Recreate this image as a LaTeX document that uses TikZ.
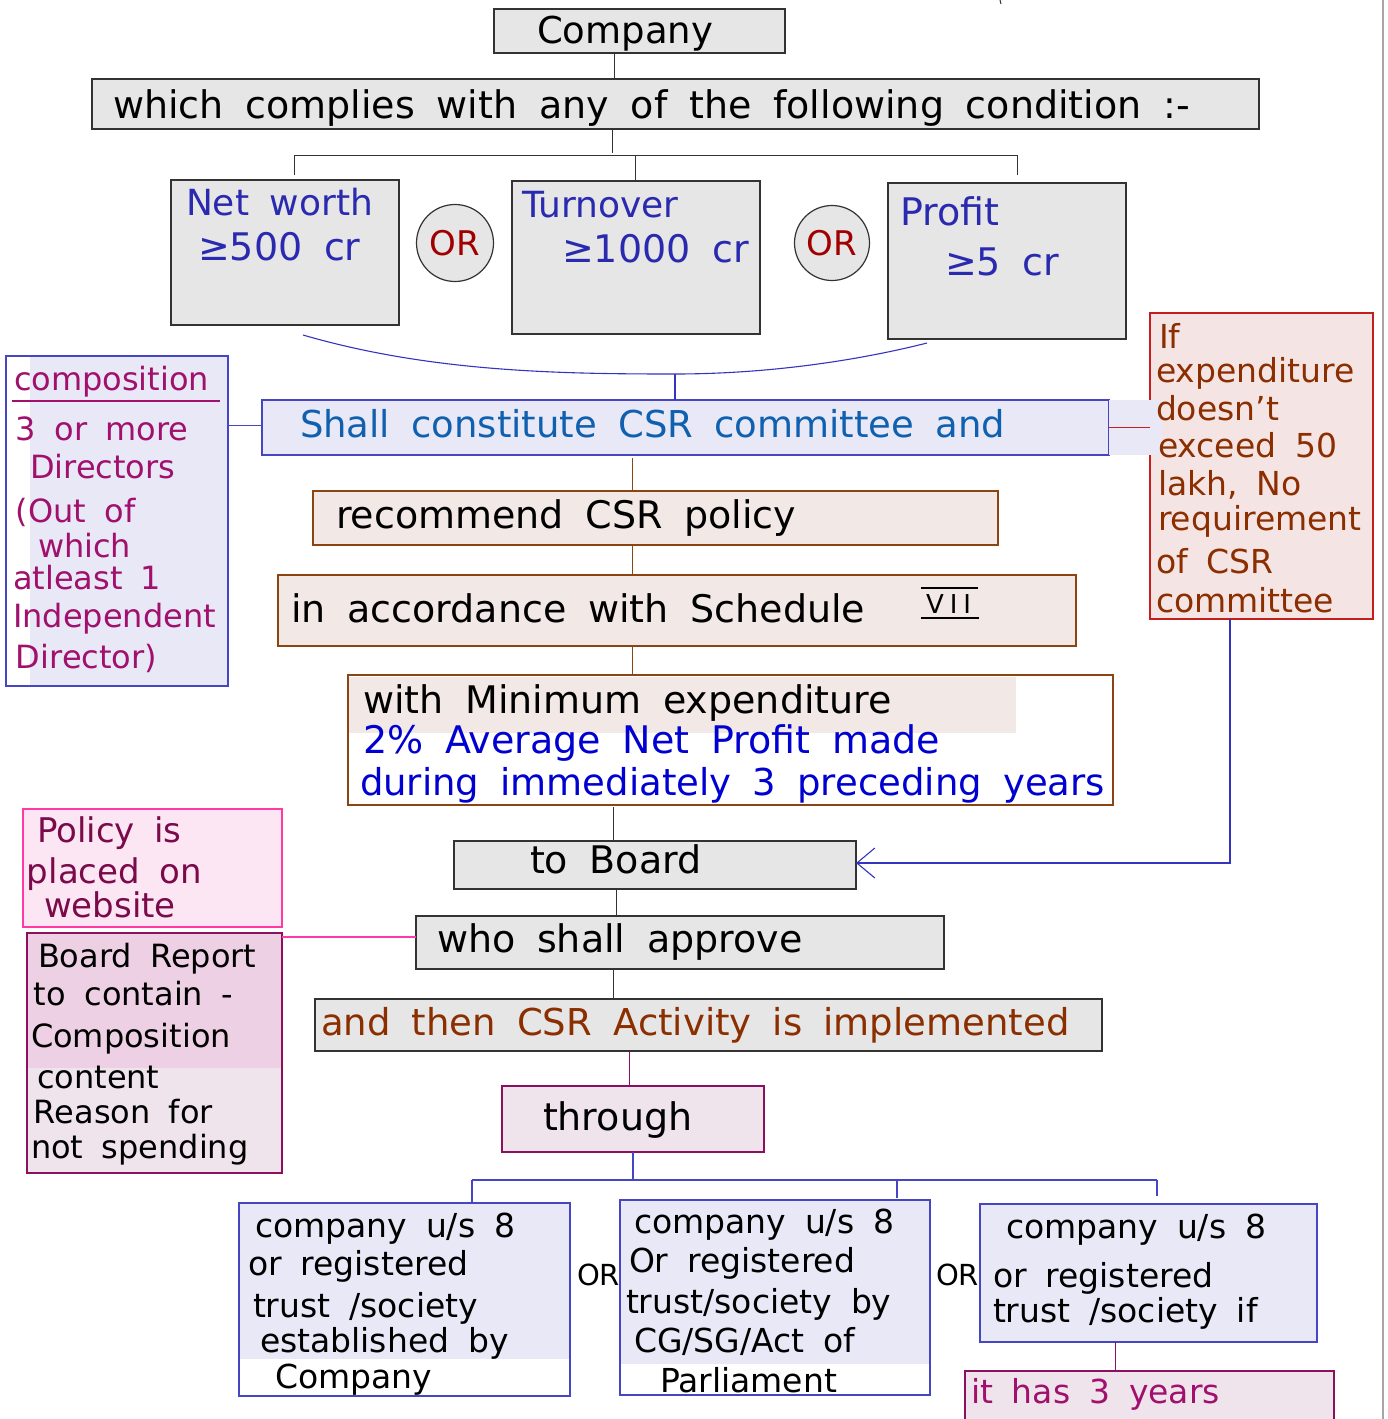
\documentclass[tikz,border=0pt]{standalone}
\usepackage{fontspec}
\setmainfont{DejaVu Sans}[WordSpace=1.8]
\usetikzlibrary{arrows.meta}
\definecolor{boxgray}{HTML}{E6E6E6}
\definecolor{edgegray}{HTML}{333333}
\definecolor{lav}{HTML}{E8E8F6}
\definecolor{lavedge}{HTML}{4646C4}
\definecolor{brownedge}{HTML}{8B4513}
\definecolor{brownfill}{HTML}{F2E9E6}
\definecolor{redfill}{HTML}{F5E4E4}
\definecolor{rededge}{HTML}{C41E1E}
\definecolor{pinkfill}{HTML}{FDE6F3}
\definecolor{pinkedge}{HTML}{FF3AA0}
\definecolor{mauvefill}{HTML}{F0E4EC}
\definecolor{mauvedark}{HTML}{EDD0E4}
\definecolor{mauveedge}{HTML}{8B1060}
\definecolor{condblue}{HTML}{2A2AB0}
\definecolor{orred}{HTML}{A00000}
\definecolor{shallblue}{HTML}{1060B0}
\definecolor{magtext}{HTML}{A0106C}
\definecolor{browntext}{HTML}{8B2E00}
\definecolor{pureblue}{HTML}{0000D0}
\definecolor{plumtext}{HTML}{7A0A4A}
\definecolor{curveblue}{HTML}{3434C0}
\newcommand\mybox[6]{\node[#2, anchor=north west, inner sep=0pt, outer sep=0pt,
  minimum width={(#5)-(#3)}, minimum height={(#6)-(#4)}] (#1) at (#3,#4) {};}
\tikzset{
  graybox/.style={draw=edgegray, fill=boxgray, line width=1.3pt},
  lavbox/.style={draw=lavedge, line width=1.3pt},
  brownbox/.style={draw=brownedge, fill=brownfill, line width=1.3pt},
  lbl/.style={anchor=base west, inner sep=0pt, outer sep=0pt},
  fs/.style={font=\fontsize{#1}{#1}\selectfont},
  conn/.style={line width=0.9pt},
}
\begin{document}
\begin{tikzpicture}[x=1pt,y=-1pt]
\useasboundingbox (0,0) rectangle (1387,1419);
\fill[white] (0,0) rectangle (1387,1419);
\draw[gray!70, line width=1.2pt] (1383,0) -- (1383,1419);
\draw[edgegray, line width=1pt] (1000,0) -- (1001,4);

% ---------- top ----------
\mybox{company}{graybox}{494}{9}{785}{53}
\node[lbl, fs=37] (tcompany) at (537,43) {Company};
\mybox{which}{graybox}{92}{79}{1259}{129}
\node[lbl, fs=38] (twhich) at (113,118) {which complies with any of the following condition :-};
\draw[conn, edgegray] (614,0 |- company.south) -- (614,0 |- which.north);

\mybox{net}{graybox}{171}{180}{399}{325}
\mybox{turn}{graybox}{512}{181}{760}{334}
\mybox{prof}{graybox}{888}{183}{1126}{339}
\coordinate (brL) at (294,155);
\coordinate (brR) at (1017,155);
\draw[conn, edgegray] (612,0 |- which.south) -- (612,153);
\draw[conn, edgegray] (brL) -- (brR);
\draw[conn, edgegray] (brL) -- (294,175);
\draw[conn, edgegray] (635,155) -- (635,0 |- turn.north);
\draw[conn, edgegray] (brR) -- (1017,175);

\node[lbl, fs=36, text=condblue] (tnet1) at (186,215) {Net worth};
\node[lbl, fs=38, text=condblue] (tnet2) at (198,260) {≥500 cr};
\node[lbl, fs=36, text=condblue] (tturn1) at (522,217) {Turnover};
\node[lbl, fs=38, text=condblue] (tturn2) at (562,262) {≥1000 cr};
\node[lbl, fs=38, text=condblue] (tprof1) at (900,225) {Profit};
\node[lbl, fs=38, text=condblue] (tprof2) at (945,275) {≥5 cr};

\node[circle, draw=edgegray, fill=boxgray, line width=1.2pt, minimum size=77pt, inner sep=0pt,
  text=orred, fs=34] (or1) at (455,243) {OR};
\node[circle, draw=edgegray, fill=boxgray, line width=1.2pt, minimum size=75pt, inner sep=0pt,
  text=orred, fs=34] (or2) at (832,243) {OR};

% ---------- curve & shall ----------
\coordinate (curveL) at (303,335);
\coordinate (curveM) at (675,374);
\coordinate (curveR) at (927,343);
\draw[curveblue, line width=1.1pt] (curveL) .. controls (430,372) and (560,374) .. (curveM)
  .. controls (770,374) and (860,360) .. (curveR);

\mybox{shall}{lavbox, fill=lav}{262}{400}{1109}{455}
\draw[curveblue, line width=1.1pt] (curveM) -- (675,0 |- shall.north);
\node[lbl, fs=37, text=shallblue] (tshall) at (300,437) {Shall  constitute  CSR  committee  and};

% composition
\fill[lav] (30,357) rectangle (227,685);
\mybox{comp}{lavbox}{6}{356}{228}{686}
\node[lbl, fs=32, text=magtext] (tcomp) at (14,390) {composition};
\draw[magtext, line width=1.2pt] (12,401) -- (220,401);
\foreach \t/\xx/\yy [count=\i] in {{3 or more}/16/440, {Directors}/30/478, {(Out of}/16/522,
  {which}/38/557, {atleast 1}/13/589, {Independent}/13/627, {Director)}/16/668}
  {\node[lbl, fs=32, text=magtext] (tcomp\i) at (\xx,\yy) {\t};}
\draw[conn, lavedge] (comp.east |- 0,425) -- (shall.west |- 0,425);

% red box
\mybox{redb}{draw=rededge, fill=redfill, line width=1.3pt}{1150}{313}{1373}{619}
\fill[lav] (1109,400) rectangle (1162,455);
\draw[conn, rededge] (shall.east |- 0,427) -- (redb.west |- 0,427);
\foreach \t/\xx/\yy [count=\i] in {{If}/1159/348, {expenditure}/1156/382, {doesn’t}/1156/420,
  {exceed 50}/1158/457, {lakh, No}/1158/495, {requirement}/1158/530, {of CSR}/1156/573,
  {committee}/1156/612}
  {\node[lbl, fs=33, text=browntext] (tred\i) at (\xx,\yy) {\t};}

% ---------- middle chain ----------
\mybox{recom}{brownbox}{313}{491}{998}{545}
\node[lbl, fs=38] (trecom) at (336,528) {recommend CSR policy};
\draw[conn, brownedge] (632,458) -- (632,0 |- recom.north);

\mybox{acc}{brownbox}{278}{575}{1076}{646}
\node[lbl, fs=38] (tacc) at (291,622) {in accordance with Schedule};
\node[lbl, fs=26] (tvii) at (926,613) {V\hspace{6pt}I\hspace{6pt}I};
\draw[line width=2pt] (921,588) -- (978,588);
\draw[line width=2pt] (921,618) -- (979,618);
\draw[conn, brownedge] (632,0 |- recom.south) -- (632,0 |- acc.north);

\fill[brownfill] (349,677) rectangle (1016,733);
\mybox{minexp}{draw=brownedge, line width=1.3pt}{348}{675}{1113}{805}
\draw[conn, brownedge] (632,0 |- acc.south) -- (632,0 |- minexp.north);
\node[lbl, fs=38] (tmin1) at (363,713) {with Minimum expenditure};
\node[lbl, fs=38, text=pureblue] (tmin2) at (363,753) {2\% Average Net Profit made};
\node[lbl, fs=37, text=pureblue] (tmin3) at (360,795) {during immediately 3 preceding years};

\mybox{board}{graybox}{454}{841}{856}{889}
\node[lbl, fs=38] (tboard) at (530,873) {to  Board};
\draw[conn, edgegray] (613,807) -- (613,0 |- board.north);
\draw[curveblue, line width=1.1pt, -{Straight Barb[length=18pt,width=30pt]}]
  (1230,0 |- redb.south) -- (1230,863) -- (board.east |- 0,863);

\mybox{who}{graybox}{416}{916}{944}{969}
\node[lbl, fs=38] (twho) at (437,952) {who shall approve};
\draw[conn, edgegray] (616,0 |- board.south) -- (616,0 |- who.north);

\mybox{impl}{graybox}{315}{999}{1102}{1051}
\node[lbl, fs=37, text=browntext] (timpl) at (321,1035) {and then CSR Activity is implemented};
\draw[conn, edgegray] (613,0 |- who.south) -- (613,0 |- impl.north);

\mybox{through}{draw=mauveedge, fill=mauvefill, line width=1.3pt}{502}{1086}{764}{1152}
\node[lbl, fs=38] (tthrough) at (543,1130) {through};
\draw[conn, mauveedge] (629,0 |- impl.south) -- (629,0 |- through.north);

% ---------- left boxes ----------
\mybox{policy}{draw=pinkedge, fill=pinkfill, line width=1.3pt}{23}{809}{282}{927}
\foreach \t/\xx/\yy [count=\i] in {{Policy is}/37/842, {placed on}/27/883, {website}/44/917}
  {\node[lbl, fs=34, text=plumtext] (tpol\i) at (\xx,\yy) {\t};}

\fill[mauvefill] (27,933) rectangle (282,1173);
\fill[mauvedark] (27,933) rectangle (282,1068);
\mybox{report}{draw=mauveedge, line width=1.3pt}{27}{933}{282}{1173}
\draw[pinkedge, line width=1.3pt] (report.east |- 0,937) -- (who.west |- 0,937);
\foreach \t/\xx/\yy [count=\i] in {{Board Report}/38/967, {to contain -}/34/1005,
  {Composition}/31/1047, {content}/37/1088, {Reason for}/34/1123, {not spending}/31/1158}
  {\node[lbl, fs=32] (trep\i) at (\xx,\yy) {\t};}

% ---------- bottom ----------
\fill[lav] (239,1203) rectangle (570,1359);
\mybox{boxa}{lavbox}{239}{1203}{570}{1396}
\fill[lav] (620,1200) rectangle (930,1364);
\mybox{boxb}{lavbox}{620}{1200}{930}{1395}
\mybox{boxc}{lavbox, fill=lav}{980}{1204}{1317}{1342}
\mybox{boxd}{draw=mauveedge, fill=mauvefill, line width=1.3pt}{965}{1371}{1334}{1440}

\coordinate (bL) at (472,1180);
\coordinate (bR) at (1157,1180);
\draw[conn, lavedge, line width=1.2pt] (633,0 |- through.south) -- (633,1180);
\draw[conn, lavedge, line width=1.2pt] (bL) -- (bR);
\draw[conn, lavedge, line width=1.2pt] (bL) -- (472,0 |- boxa.north);
\draw[conn, lavedge, line width=1.2pt] (897,1180) -- (897,1198);
\draw[conn, lavedge, line width=1.2pt] (bR) -- (1157,1196);
\draw[conn, mauveedge] (1115,0 |- boxc.south) -- (1115,0 |- boxd.north);

\foreach \t/\xx/\yy [count=\i] in {{company u/s 8}/255/1237, {or registered}/248/1275,
  {trust /society}/253/1317, {established by}/260/1352, {Company}/275/1388}
  {\node[lbl, fs=33] (ta\i) at (\xx,\yy) {\t};}
\foreach \t/\xx/\yy [count=\i] in {{company u/s 8}/634/1233, {Or registered}/629/1272,
  {trust/society by}/626/1313, {CG/SG/Act of}/634/1352, {Parliament}/660/1392}
  {\node[lbl, fs=33] (tb\i) at (\xx,\yy) {\t};}
\foreach \t/\xx/\yy [count=\i] in {{company u/s 8}/1006/1238, {or registered}/993/1287,
  {trust /society if}/993/1322}
  {\node[lbl, fs=33] (tc\i) at (\xx,\yy) {\t};}
\node[lbl, fs=33, text=magtext] (td1) at (971,1403) {it has 3 years};
\node[lbl, fs=29] (orb1) at (577,1285) {OR};
\node[lbl, fs=29] (orb2) at (936,1285) {OR};
\end{tikzpicture}
\end{document}
